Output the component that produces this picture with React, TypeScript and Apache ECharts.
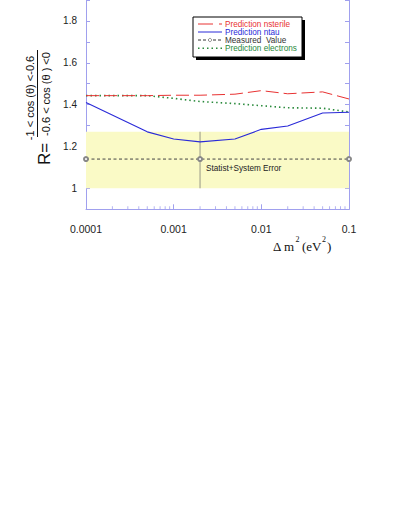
import React, { useEffect, useRef } from "react";
import * as echarts from "echarts";

const dm2 = [1e-4, 5e-4, 1e-3, 2e-3, 5e-3, 1e-2, 2e-2, 5e-2, 1e-1];
const nsterile = [1.443, 1.443, 1.445, 1.445, 1.45, 1.467, 1.452, 1.461, 1.427];
const ntau = [1.41, 1.27, 1.236, 1.222, 1.236, 1.282, 1.298, 1.36, 1.364];
const electrons = [1.443, 1.443, 1.43, 1.415, 1.405, 1.395, 1.385, 1.383, 1.365];
const measuredX = [1e-4, 2e-3, 1e-1];
const measuredValue = 1.14;
const errLow = 1.0;
const errHigh = 1.27;
const minorTickValues = [
  2e-4, 3e-4, 4e-4, 5e-4, 6e-4, 7e-4, 8e-4, 9e-4,
  2e-3, 3e-3, 4e-3, 5e-3, 6e-3, 7e-3, 8e-3, 9e-3,
  2e-2, 3e-2, 4e-2, 5e-2, 6e-2, 7e-2, 8e-2, 9e-2,
];
const legendItems = [
  "Prediction nsterile",
  "Prediction ntau",
  "Measured  Value",
  "Prediction electrons",
];

const AXIS = "#a0a0ee";
const RED = "#e83232";
const BLUE = "#2a2ad8";
const GREEN = "#2a8a3c";
const DARK = "#333333";
const SANS = "Liberation Sans, Arial, sans-serif";
const SERIF = "Liberation Serif, Times New Roman, serif";

export default function App() {
  const ref = useRef<HTMLDivElement>(null);
  useEffect(() => {
    if (!ref.current) return;
    const chart = echarts.init(ref.current, null, { renderer: "svg" });
    const zip = (ys: number[]) => dm2.map((x, i) => [x, ys[i]]);
    const legendY = [24, 32, 40, 48.3];
    const legendColors = [RED, BLUE, DARK, GREEN];
    const graphic: any[] = [
      // legend box shadow + box
      { type: "rect", shape: { x: 196, y: 20, width: 109, height: 40 }, style: { fill: "#000" }, z: 10 },
      { type: "rect", shape: { x: 193, y: 17, width: 109, height: 40 }, style: { fill: "#fff", stroke: "#000", lineWidth: 1 }, z: 11 },
      // samples
      { type: "line", shape: { x1: 198, y1: legendY[0], x2: 213, y2: legendY[0] }, style: { stroke: RED, lineWidth: 1 }, z: 12 },
      { type: "line", shape: { x1: 219, y1: legendY[0], x2: 222, y2: legendY[0] }, style: { stroke: RED, lineWidth: 1 }, z: 12 },
      { type: "line", shape: { x1: 198, y1: legendY[1], x2: 222, y2: legendY[1] }, style: { stroke: BLUE, lineWidth: 1 }, z: 12 },
      { type: "line", shape: { x1: 198, y1: legendY[2], x2: 222, y2: legendY[2] }, style: { stroke: DARK, lineWidth: 1, lineDash: [3, 2] }, z: 12 },
      { type: "circle", shape: { cx: 210, cy: legendY[2], r: 1.6 }, style: { fill: "#fff", stroke: "#777", lineWidth: 0.8 }, z: 13 },
      { type: "line", shape: { x1: 198, y1: legendY[3], x2: 222, y2: legendY[3] }, style: { stroke: GREEN, lineWidth: 1.5, lineDash: [1.5, 3] }, z: 12 },
      // y-axis title
      { type: "text", x: 30, y: 98, rotation: Math.PI / 2, style: { text: "-1 < cos (θ) <-0.6", font: `11px ${SANS}`, fill: "#111", align: "center", verticalAlign: "middle" }, z: 10 },
      { type: "line", shape: { x1: 37.5, y1: 50, x2: 37.5, y2: 137 }, style: { stroke: "#111", lineWidth: 1 }, z: 10 },
      { type: "text", x: 45.5, y: 94, rotation: Math.PI / 2, style: { text: "-0.6 < cos (θ ) <0", font: `11px ${SANS}`, fill: "#111", align: "center", verticalAlign: "middle" }, z: 10 },
      { type: "text", x: 44, y: 154, rotation: Math.PI / 2, style: { text: "R=", font: `17px ${SANS}`, fill: "#111", align: "center", verticalAlign: "middle" }, z: 10 },
      // x-axis title
      { type: "text", x: 273, y: 246, style: { text: "Δ m", font: `13px ${SERIF}`, fill: "#111", align: "left", verticalAlign: "middle" }, z: 10 },
      { type: "text", x: 295.5, y: 239.5, style: { text: "2", font: `8px ${SERIF}`, fill: "#111", align: "left", verticalAlign: "middle" }, z: 10 },
      { type: "text", x: 302, y: 246, style: { text: "(eV", font: `13px ${SERIF}`, fill: "#111", align: "left", verticalAlign: "middle" }, z: 10 },
      { type: "text", x: 322, y: 239.5, style: { text: "2", font: `8px ${SERIF}`, fill: "#111", align: "left", verticalAlign: "middle" }, z: 10 },
      { type: "text", x: 327, y: 246, style: { text: ")", font: `13px ${SERIF}`, fill: "#111", align: "left", verticalAlign: "middle" }, z: 10 },
      // error note
      { type: "text", x: 206, y: 168, style: { text: "Statist+System Error", font: `8.2px ${SANS}`, fill: "#222", align: "left", verticalAlign: "middle" }, z: 10 },
    ];
    legendItems.forEach((t, i) => {
      graphic.push({
        type: "text", x: 225, y: legendY[i],
        style: { text: t, font: `8.2px ${SANS}`, fill: legendColors[i], align: "left", verticalAlign: "middle" },
        z: 12,
      });
    });

    const yCommon = {
      type: "value",
      min: 0.9,
      max: 1.9,
      interval: 0.1,
      axisLine: { show: true, lineStyle: { color: AXIS, width: 1 } },
      axisTick: { show: true, inside: true, length: 4, lineStyle: { color: AXIS } },
      splitLine: { show: false },
    };

    chart.setOption({
      animation: false,
      graphic,
      grid: { left: 86, right: 60, top: -4.5, bottom: 319.7, containLabel: false },
      xAxis: [
        {
          type: "log",
          logBase: 10,
          min: 1e-4,
          max: 0.1,
          splitNumber: 3,
          axisLine: { show: true, lineStyle: { color: AXIS, width: 1 } },
          axisTick: { show: true, inside: true, length: 5, lineStyle: { color: AXIS } },
          splitLine: { show: false },
          axisLabel: {
            margin: 14,
            fontSize: 10.5,
            fontFamily: SANS,
            color: "#222",
            formatter: (v: number) => {
              const e = Math.round(Math.log10(v));
              return e < 0 ? v.toFixed(-e) : String(v);
            },
          },
        },
      ],
      yAxis: [
        {
          ...yCommon,
          position: "left",
          axisLabel: {
            margin: 9,
            fontSize: 10,
            fontFamily: SANS,
            color: "#222",
            formatter: (v: number) => {
              const k = Math.round(v * 10);
              return k % 2 === 0 ? String(k / 10) : "";
            },
          },
        },
        { ...yCommon, position: "right", axisLabel: { show: false } },
      ],
      series: [
        {
          type: "line",
          name: "band",
          data: [],
          z: 0,
          markArea: {
            silent: true,
            itemStyle: { color: "#fafac6" },
            data: [[{ xAxis: dm2[0], yAxis: errLow }, { xAxis: dm2[dm2.length - 1], yAxis: errHigh }]],
          },
        },
        {
          type: "line",
          name: "err",
          data: [[measuredX[1], errLow], [measuredX[1], errHigh]],
          symbol: "none",
          lineStyle: { color: "#b8b89c", width: 1.5 },
          z: 2,
        },
        {
          type: "line",
          name: "Measured Value",
          data: measuredX.map((x) => [x, measuredValue]),
          symbol: "emptyCircle",
          symbolSize: 4,
          itemStyle: { color: "#888", borderWidth: 0.8 },
          lineStyle: { color: "#444", width: 1, type: [3, 2.5] },
          z: 3,
        },
        {
          type: "line",
          name: "Prediction electrons",
          data: zip(electrons),
          symbol: "none",
          lineStyle: { color: GREEN, width: 1.6, type: [1.5, 3] },
          z: 4,
        },
        {
          type: "line",
          name: "Prediction nsterile",
          data: zip(nsterile),
          symbol: "none",
          lineStyle: { color: RED, width: 1, type: [13, 5] },
          z: 5,
        },
        {
          type: "line",
          name: "Prediction ntau",
          data: zip(ntau),
          symbol: "none",
          lineStyle: { color: BLUE, width: 1.1 },
          z: 6,
        },
        {
          type: "scatter",
          name: "minorTicks",
          data: minorTickValues.map((x) => [x, 0.9]),
          symbol: "rect",
          symbolSize: [1, 3],
          symbolOffset: [0, -1.5],
          itemStyle: { color: AXIS },
          clip: false,
          silent: true,
          z: 1,
        },
      ],
    });
    return () => chart.dispose();
  }, []);
  return (
    <div
      ref={ref}
      style={{ position: "fixed", left: 0, top: 0, width: 409, height: 529, background: "#fff" }}
    />
  );
}
